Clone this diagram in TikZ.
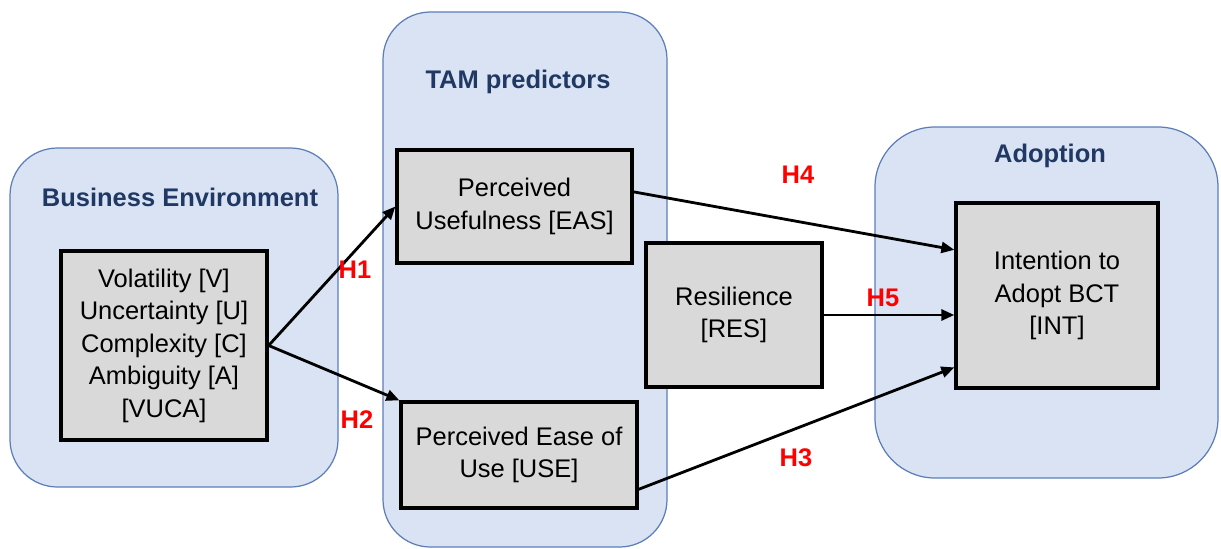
\documentclass[tikz,border=0pt]{standalone}
\usepackage{fontspec}
\setmainfont{Liberation Sans}
\usetikzlibrary{arrows.meta}
\definecolor{grpfill}{HTML}{DAE3F3}
\definecolor{grpline}{HTML}{5B7DB8}
\definecolor{navy}{HTML}{1F3864}
\definecolor{boxgray}{HTML}{D9D9D9}
\begin{document}
\begin{tikzpicture}[x=0.02cm,y=-0.02cm,
    group/.style={fill=grpfill,draw=grpline,line width=0.7pt,rounded corners=0.95cm},
    grptitle/.style={text=navy,font=\fontsize{14.5}{17}\selectfont\bfseries},
    construct/.style={draw=black,fill=boxgray,line width=1.9pt,align=center,
      inner sep=0pt,font=\fontsize{14.5}{18.5}\selectfont},
    hyp/.style={text=red,font=\fontsize{14.5}{17}\selectfont\bfseries},
    link/.style={-{Triangle[length=2.6mm,width=2.2mm]},line width=1.6pt}]
    \useasboundingbox (0,0) rectangle (1221,548);
    % groups
    \draw[group] (10,148) rectangle (338,487);
    \draw[group] (383,12) rectangle (667,547);
    \draw[group,rounded corners=1.2cm] (875,127) rectangle (1218,478);
    \node[grptitle] (envtitle) at (180,197) {Business Environment};
    \node[grptitle] (tamtitle) at (518,82) {TAM predictors};
    \node[grptitle] (adopttitle) at (1050,156) {Adoption};
    % constructs
    \node[construct,minimum width=4.12cm,minimum height=3.78cm] (vuca) at (164,345.5)
    {Volatility [V]\\Uncertainty [U]\\Complexity [C]\\Ambiguity [A]\\{}[VUCA]};
    \node[construct,minimum width=4.7cm,minimum height=2.26cm] (eas) at (514.5,206.5)
    {Perceived\\Usefulness [EAS]};
    \node[construct,minimum width=4.72cm,minimum height=2.12cm] (use) at (519,455)
    {Perceived Ease of\\Use [USE]};
    \node[construct,minimum width=3.52cm,minimum height=2.88cm] (res) at (734,315)
    {Resilience\\{}[RES]};
    \node[construct,minimum width=4.04cm,minimum height=3.7cm] (int) at (1057,295.5)
    {Intention to\\Adopt BCT\\{}[INT]};
    % hypotheses
    \draw[link] (vuca.east) -- (eas.west);
    \draw[link] (vuca.east) -- (use.north west);
    \draw[link] (eas.7) -- (int.156);
    \draw[link] (res.east) -- (res.east -| int.west);
    \draw[link] (use.-16) -- (int.215);
    \node[hyp] (h1) at (355,270) {H1};
    \node[hyp] (h2) at (357,420) {H2};
    \node[hyp] (h3) at (796,458) {H3};
    \node[hyp] (h4) at (798,175) {H4};
    \node[hyp] (h5) at (883,298) {H5};
\end{tikzpicture}
\end{document}
